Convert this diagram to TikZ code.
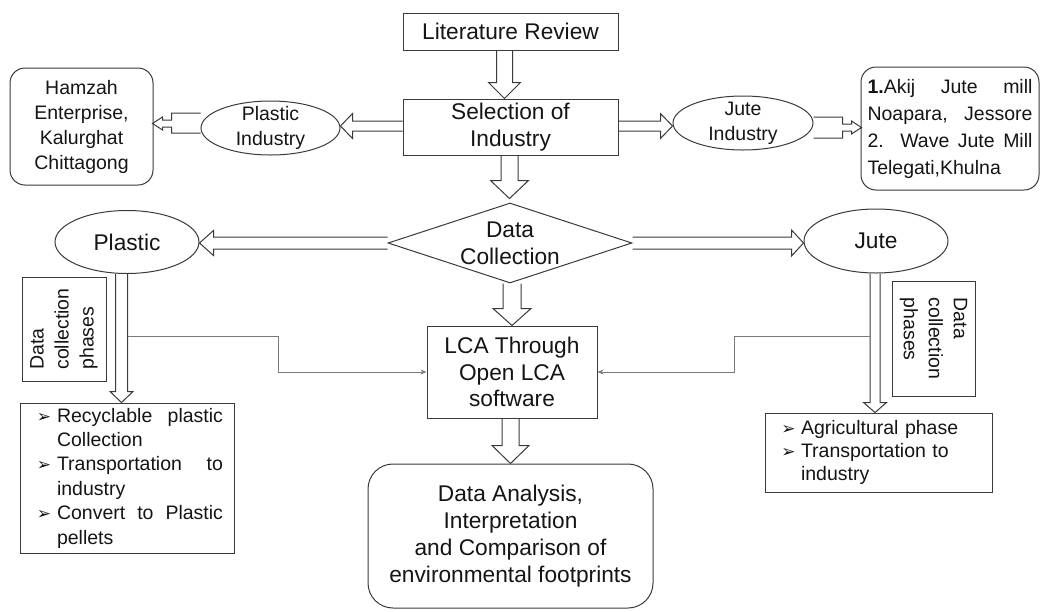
\documentclass[tikz,border=0pt]{standalone}
\usepackage{fontspec}
\setmainfont{Liberation Sans}
\newfontfamily\symfont{DejaVu Sans}
\usetikzlibrary{shapes.geometric,calc,arrows.meta}

\definecolor{linec}{HTML}{3A3A3A}
\definecolor{thinc}{HTML}{7A7A7A}
\definecolor{txtc}{HTML}{151515}

\newcommand{\bigtxt}{\fontsize{22.7}{27}\selectfont}
\newcommand{\smtxt}{\fontsize{19.5}{25}\selectfont}
\newcommand{\bul}{{\fontsize{17}{17}\selectfont\symfont ➢}}

% hollow block arrows: start point, tip point, shaft half width, head half width, head length
\newcommand{\arrdown}[5]{\draw[blk] let \p1=(#1), \p2=(#2) in
  (\x1-#3,\y1) -- (\x1-#3,\y2+#5) -- (\x1-#4,\y2+#5) -- (\x1,\y2)
  -- (\x1+#4,\y2+#5) -- (\x1+#3,\y2+#5) -- (\x1+#3,\y1);}
\newcommand{\arrleft}[5]{\draw[blk] let \p1=(#1), \p2=(#2) in
  (\x1,\y1+#3) -- (\x2+#5,\y1+#3) -- (\x2+#5,\y1+#4) -- (\x2,\y1)
  -- (\x2+#5,\y1-#4) -- (\x2+#5,\y1-#3) -- (\x1,\y1-#3);}
\newcommand{\arrright}[5]{\draw[blk] let \p1=(#1), \p2=(#2) in
  (\x1,\y1+#3) -- (\x2-#5,\y1+#3) -- (\x2-#5,\y1+#4) -- (\x2,\y1)
  -- (\x2-#5,\y1-#4) -- (\x2-#5,\y1-#3) -- (\x1,\y1-#3);}

\tikzset{
  box/.style={draw=linec, line width=1pt, rectangle, inner sep=0pt,
    align=center, font=\bigtxt, text=txtc},
  rbox/.style={box, rounded corners=15pt},
  oval/.style={draw=linec, line width=1pt, ellipse, inner xsep=0pt,
    inner ysep=-4pt, align=center, font=\smtxt, text=txtc},
  blk/.style={draw=linec, line width=1pt, line join=miter},
  conn/.style={draw=thinc, line width=0.8pt, -{Stealth[length=6pt,width=5pt]}}
}

\begin{document}
\begin{tikzpicture}[x=1pt,y=-1pt]
\useasboundingbox[fill=white] (0,0) rectangle (1041,611);

% central column
\node[box, minimum width=215pt, minimum height=37pt] (lit) at (510.5,31.5) {Literature Review};
\node[box, minimum width=215pt, minimum height=56pt] (sel) at (510.5,127) {Selection of\\Industry};
\node[draw=linec, line width=1pt, diamond, shape aspect=3, inner sep=0pt,
  minimum width=244pt, minimum height=80pt, align=center, font=\bigtxt, text=txtc]
  (dc) at (510,243) {Data\\Collection};
\node[box, minimum width=170pt, minimum height=92pt,
  font=\fontsize{22.7}{26.5}\selectfont] (lca) at (512,372) {LCA Through\\Open LCA\\software};
\node[rbox, rounded corners=25pt, minimum width=285pt, minimum height=144pt]
  (da) at (510.5,536) {Data Analysis,\\Interpretation\\and Comparison of\\environmental footprints};

% industries
\node[oval, minimum width=139pt, minimum height=54pt] (pind) at (270.5,128) {Plastic\\Industry};
\node[oval, minimum width=140pt, minimum height=54pt] (jind) at (743,123) {Jute\\Industry};
\node[rbox, minimum width=143pt, minimum height=117pt, font=\smtxt]
  (hamzah) at (81.5,126.5) {Hamzah\\Enterprise,\\Kalurghat\\Chittagong};
\node[rbox, minimum width=178pt, minimum height=123pt, align=left,
  font=\fontsize{19.5}{27}\selectfont] (akij) at (950,128.5)
  {\makebox[165pt][s]{\textbf{1.}Akij Jute mill}\\
   \makebox[165pt][s]{Noapara, Jessore}\\
   \makebox[165pt][s]{2. Wave Jute Mill}\\
   Telegati,Khulna};

% materials
\node[oval, inner ysep=0pt, minimum width=144pt, minimum height=63pt, font=\bigtxt]
  (plastic) at (127,242) {Plastic};
\node[oval, inner ysep=0pt, minimum width=144pt, minimum height=64pt, font=\bigtxt]
  (jute) at (876,241) {Jute};

% phase labels
\node[box, rotate=90, minimum width=104pt, minimum height=84pt, align=left, font=\smtxt]
  (pdc) at (64,329) {Data\\collection\\phases};
\node[box, rotate=-90, minimum width=115pt, minimum height=83pt, align=left, font=\smtxt]
  (jdc) at (933.5,338.5) {Data\\collection\\phases};

% phase lists
\node[box, minimum width=214pt, minimum height=150pt, align=left,
  font=\fontsize{19.5}{24.4}\selectfont] (plist) at (127,478)
  {\makebox[26pt][c]{\bul}\makebox[166pt][s]{Recyclable plastic}\\
   \hspace*{26pt}Collection\\
   \makebox[26pt][c]{\bul}\makebox[166pt][s]{Transportation to}\\
   \hspace*{26pt}industry\\
   \makebox[26pt][c]{\bul}\makebox[166pt][s]{Convert to Plastic}\\
   \hspace*{26pt}pellets};
\node[box, minimum width=227pt, minimum height=79pt, text width=205pt, align=left,
  font=\fontsize{19.5}{23}\selectfont] (jlist) at (878.5,452.5)
  {\makebox[25pt][c]{\bul}Agricultural phase\\
   \makebox[25pt][c]{\bul}Transportation to\\
   \hspace*{25pt}industry};

% block arrows of the main flow
\arrdown{$(lit.south)+(-6,0)$}{$(sel.north)+(-6,0)$}{8pt}{16pt}{16pt}
\arrdown{$(sel.south)+(-1,0)$}{$(dc.north)+(-1,-4)$}{8.5pt}{19pt}{18pt}
\arrdown{$(dc.south)+(2,0)$}{lca.north}{9pt}{19pt}{17pt}
\arrdown{$(lca.south)+(-1.5,0)$}{da.north}{8.5pt}{18.5pt}{18pt}

\arrleft{$(sel.west)+(0,-1)$}{pind.east}{5pt}{12.5pt}{12pt}
\arrright{$(sel.east)+(0,-1)$}{jind.west}{5pt}{12.5pt}{12pt}
\arrleft{dc.west}{plastic.east}{6pt}{12.5pt}{14pt}
\arrright{dc.east}{jute.west}{6pt}{13pt}{12pt}

\arrdown{$(plastic.south)+(-5.5,0)$}{plist.north}{6pt}{11.5pt}{11pt}
\arrdown{$(jute.south)+(-1,0)$}{jlist.north}{5pt}{11.5pt}{10pt}

% small callout arrows towards the mills
\draw[blk] (pind.west |- 0,113) -- ++(-29,0) -- ++(0,7) -- ++(-9,0) -- ++(0,-3)
  -- ++(-10,6.5) -- ++(10,6.5) -- ++(0,-3) -- ++(9,0) -- ++(0,6) -- ++(29,0);
\draw[blk] (jind.east |- 0,117) -- ++(29,0) -- ++(0,7) -- ++(9,0) -- ++(0,-3)
  -- ++(10,6.5) -- ++(-10,6.5) -- ++(0,-3) -- ++(-9,0) -- ++(0,7) -- ++(-29,0);

% data feeding the LCA model
\coordinate (pj) at ($(plastic.south)+(0.5,62.5)$);
\coordinate (jj) at ($(jute.south)+(-6,63)$);
\draw[conn] (pj) -- ++(151,0) |- (lca.west);
\draw[conn] (jj) -- ++(-136,0) |- (lca.east);
\end{tikzpicture}
\end{document}
